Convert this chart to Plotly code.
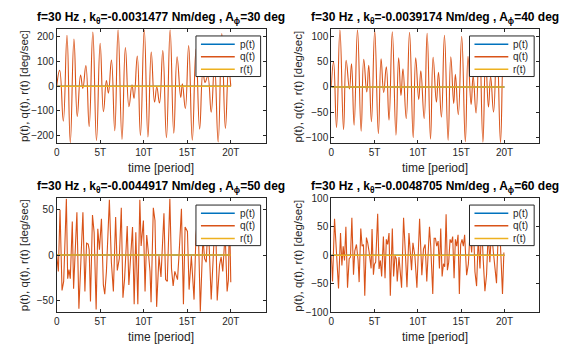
import plotly.graph_objects as go

# ---------------- data ----------------
titles = [
    "f=30 Hz , k<sub>θ</sub>=-0.0031477 Nm/deg , A<sub>ϕ</sub>=30 deg",
    "f=30 Hz , k<sub>θ</sub>=-0.0039174 Nm/deg , A<sub>ϕ</sub>=40 deg",
    "f=30 Hz , k<sub>θ</sub>=-0.0044917 Nm/deg , A<sub>ϕ</sub>=50 deg",
    "f=30 Hz , k<sub>θ</sub>=-0.0048705 Nm/deg , A<sub>ϕ</sub>=60 deg",
]
series_names = ["p(t)", "q(t)", "r(t)"]
x_tick_vals = [0, 5, 10, 15, 20]
x_tick_text = ["0", "5T", "10T", "15T", "20T"]

# p(t) and r(t) stay at zero over the whole run
pr_time = [0, 20]
p_vals = [0, 0]
r_vals = [0, 0]

t1 = [0, 0.34, 0.76, 1.18, 1.56, 1.98, 2.36, 2.74, 3.0, 3.35, 3.73, 4.15, 4.57, 4.99, 5.37,
      5.71, 5.94, 6.29, 6.67, 7.05, 7.5, 7.89, 8.3, 8.65, 8.88, 9.26, 9.62, 10.06, 10.48, 10.86,
      11.24, 11.5, 11.81, 12.19, 12.61, 13.03, 13.45, 13.83, 14.25, 14.44, 14.78, 15.16, 15.58,
      16.0, 16.42, 16.8, 17.05, 17.35, 17.75, 18.13, 18.55, 18.97, 19.38, 19.75, 20.0]
q1 = [0, 64, -141, 205, -228, 190, -122, 45, -9, 83, -163, 218, -220, 173, -103,
      23, -28, 105, -180, 228, -215, 156, -83, 6, -49, 122, -199, 228, -205, 138,
      -64, -3, -68, 144, -208, 228, -190, 119, -45, 10, -90, 164, -218,
      150, -173, 60, 15, 40, -105, 90, -225, 212, -170, 70, 0]

t2 = [0, 0.27, 0.61, 1.0, 1.42, 1.72, 2.1, 2.34, 2.64, 3.03, 3.45, 3.75, 4.1, 4.33, 4.64,
      5.02, 5.44, 5.75, 6.05, 6.36, 6.67, 7.05, 7.47, 7.78, 8.05, 8.28, 8.66, 9.04, 9.46, 9.75,
      10.1, 10.34, 10.73, 11.07, 11.46, 11.76, 12.14, 12.38, 12.72, 13.07, 13.49, 13.8, 14.14,
      14.33, 14.67, 15.06, 15.48, 15.79, 16.15, 16.38, 16.72, 17.1, 17.51, 17.82, 18.15, 18.4,
      18.74, 19.12, 19.54, 19.85, 20.0]
q2 = [0, 50, -81, 114, -85, 53, -4, 46, -76, 114, -88, 55, -10, 43, -69,
      112, -93, 56, -11, 40, -66, 110, -96, 58, -17, 36, -63, 109, -101, 58,
      -25, 32, -63, 107, -104, 59, -30, 29, -60, 103, -106, 60, -33,
      25, -55, 101, -109, 61, -35, 22, -52, 100, -110, 60, -40, 20,
      -50, 95, -111, 60, 30]

t3 = [0, 0.19, 0.38, 0.61, 0.80, 1.11, 1.26, 1.41, 1.56, 1.79,
      1.94, 2.13, 2.32, 2.55, 2.78, 3.01, 3.24, 3.43, 3.62, 3.73,
      3.88, 4.11, 4.30, 4.53, 4.72, 4.91, 5.14, 5.36, 5.52, 5.71,
      6.05, 6.28, 6.51, 6.77, 6.96, 7.19, 7.42, 7.61, 7.80, 8.10,
      8.29, 8.48, 8.71, 8.90, 9.09, 9.32, 9.55, 9.7, 9.96, 10.15,
      10.34, 10.53, 10.72, 10.84, 11.1, 11.29, 11.48, 11.75, 11.98, 12.32,
      12.51, 12.7, 13.0, 13.19, 13.38, 13.57, 13.88, 14.07, 14.33, 14.56,
      14.75, 15.02, 15.21, 15.47, 15.78, 16.0, 16.23, 16.5, 16.8, 16.99,
      17.18, 17.4, 17.75, 18.06, 18.25, 18.44, 18.71, 18.89, 19.08, 19.35,
      19.58, 19.73, 19.85, 20.0]
q3 = [0, -18, 50, -39, -29, 62, -26, -16, -26, 37,
      -37, 13, 47, -59, 5, 47, -40, 13, 12, 6,
      -51, 44, 25, -60, 29, 6, 40, -33, -43, -18,
      61, -8, -40, 42, -17, -4, 52, -47, -26, 32,
      -33, -8, 31, -54, 25, -54, 61, 10, 38, -40,
      22, 3, -18, -52, 52, 38, -57, -1, -24, 46,
      -27, -29, 62, -15, -34, -18, -27, 3, 51, -54,
      31, 26, -38, -1, -49, 22, 45, -62, 20, -4,
      -8, 40, -49, 13, 45, -50, -11, -2, -18, 24,
      -40, -27, 50, -30]

t4 = [0, 0.15, 0.38, 0.61, 0.84, 1.07, 1.23, 1.38, 1.53, 1.69,
      1.88, 2.07, 2.22, 2.38, 2.57, 2.72, 2.91, 3.10, 3.22, 3.41,
      3.56, 3.72, 3.87, 4.06, 4.21, 4.37, 4.60, 4.71, 4.87, 4.98,
      5.13, 5.36, 5.52, 5.67, 5.82, 6.02, 6.21, 6.36, 6.51, 6.67,
      6.82, 7.05, 7.20, 7.36, 7.51, 7.62, 7.82, 8.12, 8.35, 8.58,
      8.74, 8.97, 9.12, 9.27, 9.43, 9.66, 9.89, 10.2, 10.46, 10.65,
      10.84, 11.03, 11.23, 11.34, 11.49, 11.72, 11.88, 12.03, 12.18, 12.34,
      12.49, 12.64, 12.80, 12.95, 13.10, 13.26, 13.41, 13.56, 13.72, 13.87,
      14.02, 14.18, 14.33, 14.48, 14.64, 14.79, 14.94, 15.10, 15.25, 15.40,
      15.63, 15.83, 16.02, 16.21, 16.4, 16.59, 16.78, 16.97, 17.17, 17.36,
      17.55, 17.74, 17.93, 18.12, 18.31, 18.5, 18.7, 18.89, 19.08, 19.27,
      19.54, 19.77, 19.93]
q4 = [0, -46, 64, -1, -58, 39, -18, 16, -9, 50,
      -57, -6, -3, 66, -34, 8, 19, -9, -47, 47,
      16, 19, -71, 31, 22, 6, -23, 46, -34, -16,
      -12, 73, -24, -9, -37, 33, -40, 28, 19, 39,
      -71, 47, -37, -1, -6, -46, -3, -57, 66, -3,
      -56, 39, -1, -26, 22, -2, -57, 64, -35, 11,
      19, -46, 16, 50, 14, -68, 30, 30, 16, 25,
      -23, 47, -37, -15, -20, 72, -26, -12, 28, 22,
      33, -40, 28, 16, 36, -68, 19, 28, 16, 36,
      -35, -15, 40, 5, 60, -29, -54, 30, -23, 55,
      -9, -63, -34, 40, -12, 45, 8, -18, -49, 35,
      16, -68, 5]

q_times = [t1, t2, t3, t4]
q_values = [q1, q2, q3, q4]
y_tick_vals = [[-200, -100, 0, 100, 200], [-100, -50, 0, 50, 100], [-50, 0, 50], [-100, -50, 0, 50, 100]]
y_ranges = [[-230, 230], [-112, 115], [-63, 62.5], [-100, 100]]
x_range = [0, 24]
line_shapes = ["spline", "spline", "linear", "linear"]

# ---------------- styling ----------------
W, H = 564, 356
FONT = "Arial, 'Liberation Sans', Helvetica, sans-serif"
AXC = "#262626"
colors = ["#0072BD", "#D95319", "#EDB120"]

# axes boxes in pixels: (left, right, top, bottom)
boxes = [(54, 264, 24, 142), (330, 539, 24, 142), (54, 264, 199, 317), (330, 539, 199, 317)]

fig = go.Figure()
layout = dict(width=W, height=H, margin=dict(l=0, r=0, t=0, b=0),
              paper_bgcolor="white", plot_bgcolor="white",
              font=dict(family=FONT, size=10, color=AXC), showlegend=False)
annotations = []
shapes = []


def px(x):
    return x / W


def py(y):
    return 1 - y / H


for i in range(4):
    k = "" if i == 0 else str(i + 1)
    left, right, top, bottom = boxes[i]
    traces = [(pr_time, p_vals, "linear"), (q_times[i], q_values[i], line_shapes[i]), (pr_time, r_vals, "linear")]
    for j, (xx, yy, shp) in enumerate(traces):
        fig.add_trace(go.Scatter(
            x=xx, y=yy, mode="lines", name=series_names[j],
            line=dict(color=colors[j], width=1.1 if j == 1 else 1.5, shape=shp, smoothing=1.3 if shp == "spline" else None),
            xaxis="x" + k, yaxis="y" + k, showlegend=False))
    layout["xaxis" + k] = dict(domain=[px(left), px(right)], range=x_range, anchor="y" + k,
                               tickvals=x_tick_vals, ticktext=x_tick_text,
                               ticks="inside", ticklen=3, tickcolor=AXC, showline=True,
                               linecolor=AXC, linewidth=1, mirror="ticks", showgrid=False,
                               zeroline=False, tickfont=dict(size=10, color=AXC))
    layout["yaxis" + k] = dict(domain=[py(bottom), py(top)], range=y_ranges[i], anchor="x" + k,
                               tickvals=y_tick_vals[i],
                               ticks="inside", ticklen=3, tickcolor=AXC, showline=True,
                               linecolor=AXC, linewidth=1, mirror="ticks", showgrid=False,
                               zeroline=False, tickfont=dict(size=10, color=AXC))

    # legend box (drawn by hand to match compact MATLAB legend spacing)
    lr = right - 5
    ll = lr - 65
    lt = top + 7
    lb = lt + 42
    shapes.append(dict(type="rect", xref="paper", yref="paper", x0=px(ll), x1=px(lr),
                       y0=py(lb), y1=py(lt), line=dict(color=AXC, width=1), fillcolor="white",
                       layer="above"))
    for j in range(3):
        yrow = lt + 8.5 + 13 * j
        shapes.append(dict(type="line", xref="paper", yref="paper", x0=px(ll + 5), x1=px(ll + 39),
                           y0=py(yrow), y1=py(yrow), line=dict(color=colors[j], width=1.5),
                           layer="above"))
        annotations.append(dict(text=series_names[j], x=px(ll + 42), y=py(yrow),
                                xref="paper", yref="paper", xanchor="left", yanchor="middle",
                                showarrow=False, font=dict(size=10, color=AXC)))

    cx = px((left + right) / 2)
    annotations.append(dict(text="<b>" + titles[i] + "</b>", x=cx, y=py(top - 12),
                            xref="paper", yref="paper", xanchor="center", yanchor="middle",
                            showarrow=False, font=dict(size=12, color="black")))
    annotations.append(dict(text="time [period]", x=cx, y=py(bottom + 26),
                            xref="paper", yref="paper", xanchor="center", yanchor="middle",
                            showarrow=False, font=dict(size=12, color=AXC)))
    annotations.append(dict(text="p(t), q(t), r(t) [deg/sec]", x=px(left - 33),
                            y=py((top + bottom) / 2), textangle=-90,
                            xref="paper", yref="paper", xanchor="center", yanchor="middle",
                            showarrow=False, font=dict(size=11.5, color=AXC)))

layout["annotations"] = annotations
layout["shapes"] = shapes
fig.update_layout(**layout)
fig.write_html("out.html")
